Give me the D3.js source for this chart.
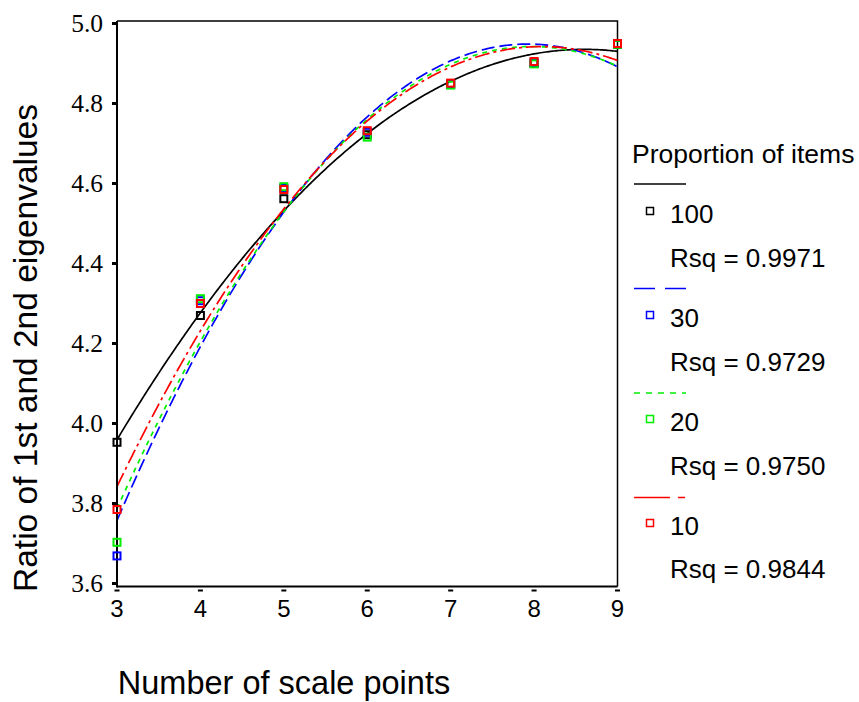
<!DOCTYPE html>
<html>
<head>
<meta charset="utf-8">
<script src="https://cdn.jsdelivr.net/npm/d3@7/dist/d3.min.js"></script>
<style>
  html, body { margin: 0; padding: 0; background: #fff; }
  svg { display: block; }
</style>
</head>
<body>
<svg id="chart" width="859" height="702"></svg>
<script>
// Number of scale points
const scalePoints = [3, 4, 5, 6, 7, 8, 9];

// Ratio of 1st to 2nd eigenvalue, one array per proportion of items
const ratio100 = [3.953, 4.270, 4.562, 4.722, 4.848, 4.900, 4.948];
const ratio30  = [3.669, 4.307, 4.588, 4.728, 4.848, 4.902, 4.950];
const ratio20  = [3.703, 4.312, 4.592, 4.716, 4.846, 4.899, 4.948];
const ratio10  = [3.785, 4.300, 4.585, 4.732, 4.851, 4.905, 4.950];

const seriesNames = ["100", "30", "20", "10"];
const rsqLabels = ["Rsq = 0.9971", "Rsq = 0.9729", "Rsq = 0.9750", "Rsq = 0.9844"];

const xTicks = [3, 4, 5, 6, 7, 8, 9];
const yTicks = [3.6, 3.8, 4.0, 4.2, 4.4, 4.6, 4.8, 5.0];

const series = [
  { name: seriesNames[0], values: ratio100, rsq: rsqLabels[0], color: "#000000", dash: null,         legendDash: null },
  { name: seriesNames[1], values: ratio30,  rsq: rsqLabels[1], color: "#0000ff", dash: "13,5",       legendDash: "21,10" },
  { name: seriesNames[2], values: ratio20,  rsq: rsqLabels[2], color: "#00ee00", dash: "5,5",        legendDash: "6,6" },
  { name: seriesNames[3], values: ratio10,  rsq: rsqLabels[3], color: "#ff0000", dash: "15,4,3,4",   legendDash: "36,8,7,8" }
];

// Least-squares quadratic fit y = a + b x + c x^2
function quadFit(xs, ys) {
  const n = xs.length;
  let s = [0, 0, 0, 0, 0], t = [0, 0, 0];
  for (let i = 0; i < n; i++) {
    const x = xs[i], y = ys[i];
    for (let k = 0; k < 5; k++) s[k] += Math.pow(x, k);
    for (let k = 0; k < 3; k++) t[k] += y * Math.pow(x, k);
  }
  // Solve the 3x3 normal equations by Cramer's rule
  const M = [[s[0], s[1], s[2]], [s[1], s[2], s[3]], [s[2], s[3], s[4]]];
  const det = m => m[0][0]*(m[1][1]*m[2][2]-m[1][2]*m[2][1])
                 - m[0][1]*(m[1][0]*m[2][2]-m[1][2]*m[2][0])
                 + m[0][2]*(m[1][0]*m[2][1]-m[1][1]*m[2][0]);
  const D = det(M);
  const coef = [0, 1, 2].map(j => {
    const Mj = M.map((row, r) => row.map((v, c) => c === j ? t[r] : v));
    return det(Mj) / D;
  });
  return x => coef[0] + coef[1]*x + coef[2]*x*x;
}

const svg = d3.select("#chart");

const x = d3.scaleLinear().domain([3, 9]).range([117, 617.5]);
const y = d3.scaleLinear().domain([3.5925, 5.00625]).range([586.5, 21]);

// Frame (top and right edges)
svg.append("path")
  .attr("d", `M${x(3)},${y.range()[1]} H${x(9)} V${y.range()[0]}`)
  .attr("fill", "none").attr("stroke", "#000").attr("stroke-width", 1.5);

// Fitted curves
const curveX = d3.range(0, 301).map(i => 3 + i * 6 / 300);
series.forEach(s => {
  const f = quadFit(scalePoints, s.values);
  const line = d3.line().x(d => x(d)).y(d => y(f(d)));
  svg.append("path")
    .datum(curveX)
    .attr("d", line)
    .attr("fill", "none")
    .attr("stroke", s.color)
    .attr("stroke-width", 1.7)
    .attr("stroke-dasharray", s.dash);
});

// Axes
const xAxis = svg.append("g");
xAxis.append("line")
  .attr("x1", x(3)).attr("x2", x(9)).attr("y1", 586.5).attr("y2", 586.5)
  .attr("stroke", "#000").attr("stroke-width", 2);
xAxis.selectAll("rect.tick").data(xTicks).enter().append("rect")
  .attr("x", d => x(d) - 2.5).attr("y", 589.5).attr("width", 5).attr("height", 2)
  .attr("fill", "#000");
xAxis.selectAll("text").data(xTicks).enter().append("text")
  .attr("x", d => x(d)).attr("y", 617)
  .attr("text-anchor", "middle")
  .attr("font-family", "Liberation Sans, Arial, sans-serif")
  .attr("font-size", 24)
  .text(d => d);

const yAxis = svg.append("g");
yAxis.append("line")
  .attr("x1", 117).attr("x2", 117).attr("y1", 21).attr("y2", 587.5)
  .attr("stroke", "#000").attr("stroke-width", 2);
yAxis.selectAll("rect.tick").data(yTicks).enter().append("rect")
  .attr("x", 112).attr("y", d => y(d) - 1.5).attr("width", 5).attr("height", 3)
  .attr("fill", "#000");
yAxis.selectAll("text").data(yTicks).enter().append("text")
  .attr("x", 103).attr("y", d => y(d))
  .attr("dy", "0.34em")
  .attr("text-anchor", "end")
  .attr("font-family", "Liberation Serif, Times New Roman, serif")
  .attr("font-size", 25.5)
  .text(d => d3.format(".1f")(d));

// Data markers
series.forEach(s => {
  svg.append("g").selectAll("rect").data(scalePoints).enter().append("rect")
    .attr("x", (d) => x(d) - 3.5)
    .attr("y", (d, i) => y(s.values[i]) - 3.5)
    .attr("width", 7).attr("height", 7)
    .attr("fill", "none")
    .attr("stroke", s.color)
    .attr("stroke-width", 2);
});

// Axis titles
svg.append("text")
  .attr("x", 284).attr("y", 694)
  .attr("text-anchor", "middle")
  .attr("font-family", "Liberation Sans, Arial, sans-serif")
  .attr("font-size", 32.5)
  .text("Number of scale points");

svg.append("text")
  .attr("transform", "translate(37,348) rotate(-90)")
  .attr("text-anchor", "middle")
  .attr("font-family", "Liberation Sans, Arial, sans-serif")
  .attr("font-size", 33.5)
  .text("Ratio of 1st and 2nd eigenvalues");

// Legend
const legend = svg.append("g").attr("font-family", "Liberation Sans, Arial, sans-serif");
legend.append("text")
  .attr("x", 632).attr("y", 163)
  .attr("font-size", 26.5)
  .text("Proportion of items");

series.forEach((s, i) => {
  const lineY = 184 + i * 104.5;
  const labelY = 223 + i * 104;
  const rsqY = 267 + i * 103.8;
  legend.append("line")
    .attr("x1", 634).attr("x2", 686).attr("y1", lineY).attr("y2", lineY)
    .attr("stroke", s.color).attr("stroke-width", 1.5)
    .attr("stroke-dasharray", s.legendDash);
  legend.append("rect")
    .attr("x", 646.5).attr("y", labelY - 15.5).attr("width", 7).attr("height", 7)
    .attr("fill", "none").attr("stroke", s.color).attr("stroke-width", 1.5);
  legend.append("text")
    .attr("x", 670).attr("y", labelY).attr("font-size", 26).text(s.name);
  legend.append("text")
    .attr("x", 670).attr("y", rsqY).attr("font-size", 26).text(s.rsq);
});
</script>
</body>
</html>
